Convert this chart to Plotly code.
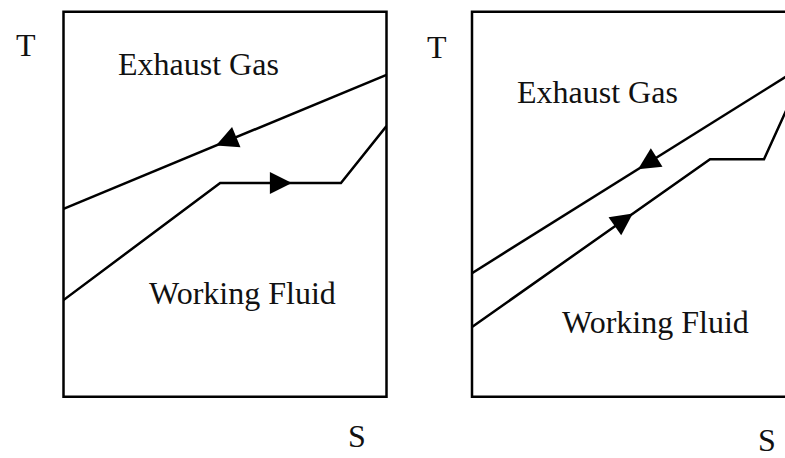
import numpy as np
import plotly.graph_objects as go

# --- T-S diagram data (S and T in arbitrary units, box spans 0..10 on both) ---
# Left panel
S_gas_left = [0.0, 10.0]
T_gas_left = [4.88, 8.36]
S_wf_left = [0.0, 4.85, 8.59, 10.0]
T_wf_left = [2.51, 5.55, 5.55, 7.03]

# Right panel
S_gas_right = [0.0, 10.0]
T_gas_right = [3.21, 8.46]
S_wf_right = [0.0, 7.37, 9.04, 10.0]
T_wf_right = [1.81, 6.17, 6.17, 7.94]

# Flow-direction arrow tips (S position, +1 = towards higher S, -1 = towards lower S)
arrow_S_left = [4.72, 7.07]
arrow_dir_left = [-1, 1]
arrow_S_right = [5.14, 4.98]
arrow_dir_right = [-1, 1]

labels_gas = "Exhaust Gas"
labels_wf = "Working Fluid"
axis_T = "T"
axis_S = "S"

W, H = 785, 458
FONT = dict(family="Liberation Serif", size=32, color="#111111")

# panel geometry in pixels
box_top, box_bottom = 11.7, 396.7
left_x0, left_x1 = 63.5, 386.5
right_x0, right_x1 = 472.0, 795.0
box_w = left_x1 - left_x0
kx = box_w / 10.0
ky = (box_bottom - box_top) / 10.0


def px(x):
    return x / W


def py(y):
    return 1 - y / H


fig = go.Figure()


def arrow_markers(S_line, T_line, tips, dirs, xa, ya):
    xs, ys, angs = [], [], []
    for s, d in zip(tips, dirs):
        t = float(np.interp(s, S_line, T_line))
        # local slope of the segment containing s
        i = int(np.clip(np.searchsorted(S_line, s) - 1, 0, len(S_line) - 2))
        dS = (S_line[i + 1] - S_line[i]) * d
        dT = (T_line[i + 1] - T_line[i]) * d
        ang = np.degrees(np.arctan2(dS * kx, dT * ky))
        xs.append(s)
        ys.append(t)
        angs.append(ang)
    fig.add_trace(go.Scatter(
        x=xs, y=ys, mode="markers", xaxis=xa, yaxis=ya,
        marker=dict(symbol="arrow-up", size=22, angle=angs, color="black",
                    line=dict(width=0)),
        hoverinfo="skip", showlegend=False, cliponaxis=False,
    ))


line_style = dict(color="black", width=2.5)

# left panel curves
fig.add_trace(go.Scatter(x=S_gas_left, y=T_gas_left, mode="lines", line=line_style,
                         xaxis="x", yaxis="y", showlegend=False))
fig.add_trace(go.Scatter(x=S_wf_left, y=T_wf_left, mode="lines", line=line_style,
                         xaxis="x", yaxis="y", showlegend=False))
arrow_markers(S_gas_left, T_gas_left, [arrow_S_left[0]], [arrow_dir_left[0]], "x", "y")
arrow_markers(S_wf_left, T_wf_left, [arrow_S_left[1]], [arrow_dir_left[1]], "x", "y")

# right panel curves
fig.add_trace(go.Scatter(x=S_gas_right, y=T_gas_right, mode="lines", line=line_style,
                         xaxis="x2", yaxis="y2", showlegend=False))
fig.add_trace(go.Scatter(x=S_wf_right, y=T_wf_right, mode="lines", line=line_style,
                         xaxis="x2", yaxis="y2", showlegend=False))
arrow_markers(S_gas_right, T_gas_right, [arrow_S_right[0]], [arrow_dir_right[0]], "x2", "y2")
arrow_markers(S_wf_right, T_wf_right, [arrow_S_right[1]], [arrow_dir_right[1]], "x2", "y2")

ydom = [py(box_bottom), py(box_top)]
hidden = dict(visible=False, fixedrange=True)

fig.update_layout(
    width=W, height=H,
    margin=dict(l=0, r=0, t=0, b=0),
    paper_bgcolor="white", plot_bgcolor="white",
    xaxis=dict(domain=[px(left_x0), px(left_x1)], range=[0, 10], **hidden),
    yaxis=dict(domain=ydom, range=[0, 10], **hidden),
    xaxis2=dict(domain=[px(right_x0), 1.0], range=[0, (W - right_x0) / kx], **hidden),
    yaxis2=dict(domain=ydom, range=[0, 10], anchor="x2", **hidden),
    showlegend=False,
)

# panel frames
for x0, x1 in [(left_x0, left_x1), (right_x0, right_x1)]:
    fig.add_shape(type="rect", xref="paper", yref="paper",
                  x0=px(x0), x1=px(x1), y0=py(box_bottom), y1=py(box_top),
                  line=dict(color="black", width=2.5), fillcolor="rgba(0,0,0,0)")

# text labels
texts = [
    (labels_gas, 198, 64),
    (labels_gas, 597, 92),
    (labels_wf, 242, 293),
    (labels_wf, 655, 322),
    (axis_T, 26, 45),
    (axis_T, 437, 47),
    (axis_S, 357, 436),
    (axis_S, 767, 440),
]
for txt, x, y in texts:
    fig.add_annotation(text=txt, x=px(x), y=py(y), xref="paper", yref="paper",
                       xanchor="center", yanchor="middle", showarrow=False, font=FONT)

fig.write_html("out.html")
